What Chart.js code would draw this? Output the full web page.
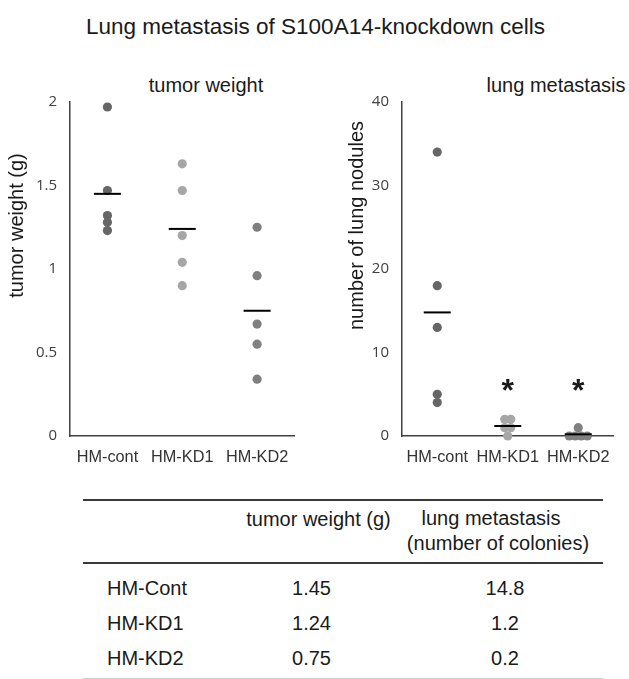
<!DOCTYPE html>
<html>
<head>
<meta charset="utf-8">
<script src="https://cdn.jsdelivr.net/npm/chart.js@4/dist/chart.umd.min.js"></script>
<style>
  html, body { margin:0; padding:0; background:#fff; }
  body { width:629px; height:679px; overflow:hidden; position:relative;
         font-family:"Liberation Sans", Arial, sans-serif; color:#1a1a1a; }
  .txt { position:absolute; font-size:20px; line-height:24px; white-space:nowrap; }
  .ctr { text-align:center; width:300px; }
  canvas { position:absolute; }
  .rule { position:absolute; left:83px; width:520px; }
</style>
</head>
<body>
<div class="txt" id="mainTitle" style="left:0;width:631px;text-align:center;top:13px;font-size:22.5px;line-height:28px;"></div>
<div class="txt ctr" id="sub1" style="left:56px;top:73px;"></div>
<div class="txt ctr" id="sub2" style="left:406px;top:73px;"></div>
<canvas id="c1" width="310" height="420" style="left:0;top:60px;"></canvas>
<canvas id="c2" width="309" height="420" style="left:320px;top:60px;"></canvas>

<div class="rule" style="top:498.5px;height:2px;background:#3a3a3a;"></div>
<div class="rule" style="top:561.5px;height:2px;background:#3a3a3a;"></div>
<div class="rule" style="top:677.5px;height:1.5px;background:#cfcfcf;"></div>
<div id="table"></div>

<script>
// ---------------- data ----------------
const mainTitle = 'Lung metastasis of S100A14-knockdown cells';
const groups = ['HM-cont', 'HM-KD1', 'HM-KD2'];
const tumorCont = [1.97, 1.47, 1.32, 1.28, 1.23];
const tumorKD1  = [1.63, 1.47, 1.20, 1.04, 0.90];
const tumorKD2  = [1.25, 0.96, 0.67, 0.55, 0.34];
const lungCont  = [34, 18, 13, 5, 4];
const lungKD1   = [2, 2, 1, 1, 0];
const lungKD2   = [1, 0, 0, 0, 0];
const tumorMeans = [1.45, 1.24, 0.75];
const lungMeans  = [14.8, 1.2, 0.2];
const tumorTicks = [0, 0.5, 1, 1.5, 2];
const lungTicks  = [0, 10, 20, 30, 40];
const significance = ['', '*', '*'];
const tableRows = ['HM-Cont', 'HM-KD1', 'HM-KD2'];
const tableHeaders = ['tumor weight (g)', 'lung metastasis', '(number of colonies)'];
const chartTitles = ['tumor weight', 'lung metastasis'];
const axisTitles = ['tumor weight (g)', 'number of lung nodules'];

// ---------------- styles ----------------
const groupColors = ['#666666', '#a6a6a6', '#808080'];
const axisColor = '#404040';
const FONT = '"Liberation Sans", Arial, sans-serif';

document.getElementById('mainTitle').textContent = mainTitle;
document.getElementById('sub1').textContent = chartTitles[0];
document.getElementById('sub2').textContent = chartTitles[1];

// spread identical values inside a group sideways (computed, not typed)
function spread(vals, j, step) {
  const same = [];
  vals.forEach((w, k) => { if (w === vals[j]) same.push(k); });
  return (same.indexOf(j) - (same.length - 1) / 2) * step;
}

const extras = {
  id: 'extras',
  afterDatasetsDraw(chart, args, o) {
    const { ctx, chartArea, scales } = chart;
    ctx.save();
    ctx.font = '20px ' + FONT;
    ctx.fillStyle = '#1a1a1a';
    ctx.translate(o.titleX, (chartArea.top + chartArea.bottom) / 2 + o.titleShift);
    ctx.rotate(-Math.PI / 2);
    ctx.textAlign = 'center';
    ctx.textBaseline = 'middle';
    ctx.fillText(o.title, 0, 0);
    ctx.restore();
    if (o.stars) {
      ctx.save();
      ctx.font = 'bold 32px ' + FONT;
      ctx.fillStyle = '#1a1a1a';
      ctx.textAlign = 'center';
      ctx.textBaseline = 'alphabetic';
      o.stars.forEach((s, i) => {
        if (!s) return;
        const m = ctx.measureText(s);
        const cx = scales.x.getPixelForValue(i);
        const cy = scales.y.getPixelForValue(o.starLevel);
        const base = cy - (m.actualBoundingBoxDescent - m.actualBoundingBoxAscent) / 2;
        ctx.fillText(s, cx, base);
      });
      ctx.restore();
    }
  }
};

function makeChart(id, series, means, ticks, yMax, yWidth, padRight, extraOpts) {
  const datasets = [{
    label: 'mean',
    data: means.map((m, i) => ({ x: i, y: m })),
    pointStyle: 'line',
    pointRadius: 13.5,
    borderColor: '#000',
    borderWidth: 2,
    showLine: false,
    clip: false,
    order: 0
  }];
  series.forEach((vals, i) => {
    datasets.push({
      label: groups[i],
      data: vals.map((v, j) => ({ x: i + spread(vals, j, 0.085), y: v })),
      pointRadius: 4.6,
      pointBorderWidth: 0,
      backgroundColor: groupColors[i],
      borderColor: groupColors[i],
      clip: false,
      order: 1
    });
  });
  return new Chart(document.getElementById(id), {
    type: 'scatter',
    data: { datasets },
    plugins: [extras],
    options: {
      responsive: false,
      animation: false,
      events: [],
      layout: { padding: { top: 42, right: padRight, left: 0, bottom: 0 } },
      plugins: {
        legend: { display: false },
        tooltip: { enabled: false },
        title: { display: false },
        extras: extraOpts
      },
      scales: {
        x: {
          type: 'linear',
          min: -0.5, max: 2.5,
          afterBuildTicks: s => { s.ticks = groups.map((g, i) => ({ value: i })); },
          afterFit: s => { s.height = 44; },
          grid: { display: false, drawTicks: false },
          border: { display: true, color: axisColor, width: 1.5 },
          ticks: {
            callback: v => groups[v],
            font: { family: FONT, size: 16.3 },
            color: '#333',
            padding: 12,
            maxRotation: 0
          }
        },
        y: {
          min: 0, max: yMax,
          afterBuildTicks: s => { s.ticks = ticks.map(v => ({ value: v })); },
          afterFit: s => { s.width = yWidth; },
          grid: { display: false, drawTicks: false },
          border: { display: true, color: axisColor, width: 1.5 },
          ticks: {
            callback: v => String(v),
            font: { family: '"Open Sans", sans-serif', size: 15 },
            color: '#404040',
            padding: 13
          }
        }
      }
    }
  });
}

makeChart('c1', [tumorCont, tumorKD1, tumorKD2], tumorMeans, tumorTicks, 2, 70, 14,
  { title: axisTitles[0], titleX: 17.5, titleShift: -43.5 });
makeChart('c2', [lungCont, lungKD1, lungKD2], lungMeans, lungTicks, 40, 82, 6,
  { title: axisTitles[1], titleX: 37, titleShift: -43.5, stars: significance, starLevel: 6.1 });

// ---------------- table ----------------
const tbl = document.getElementById('table');
function addText(text, left, centerY, align) {
  const d = document.createElement('div');
  d.className = 'txt' + (align === 'center' ? ' ctr' : '');
  d.textContent = text;
  d.style.top = (centerY - 12) + 'px';
  d.style.left = (align === 'center' ? left - 150 : left) + 'px';
  tbl.appendChild(d);
}
addText(tableHeaders[0], 318.5, 519, 'center');
addText(tableHeaders[1], 491, 518, 'center');
addText(tableHeaders[2], 498, 543, 'center');
tableRows.forEach((r, i) => {
  const cy = 588 + i * 35;
  addText(r, 107, cy, 'left');
  addText(tumorMeans[i].toFixed(2), 311.5, cy, 'center');
  addText(lungMeans[i].toFixed(1), 505, cy, 'center');
});
</script>
</body>
</html>
